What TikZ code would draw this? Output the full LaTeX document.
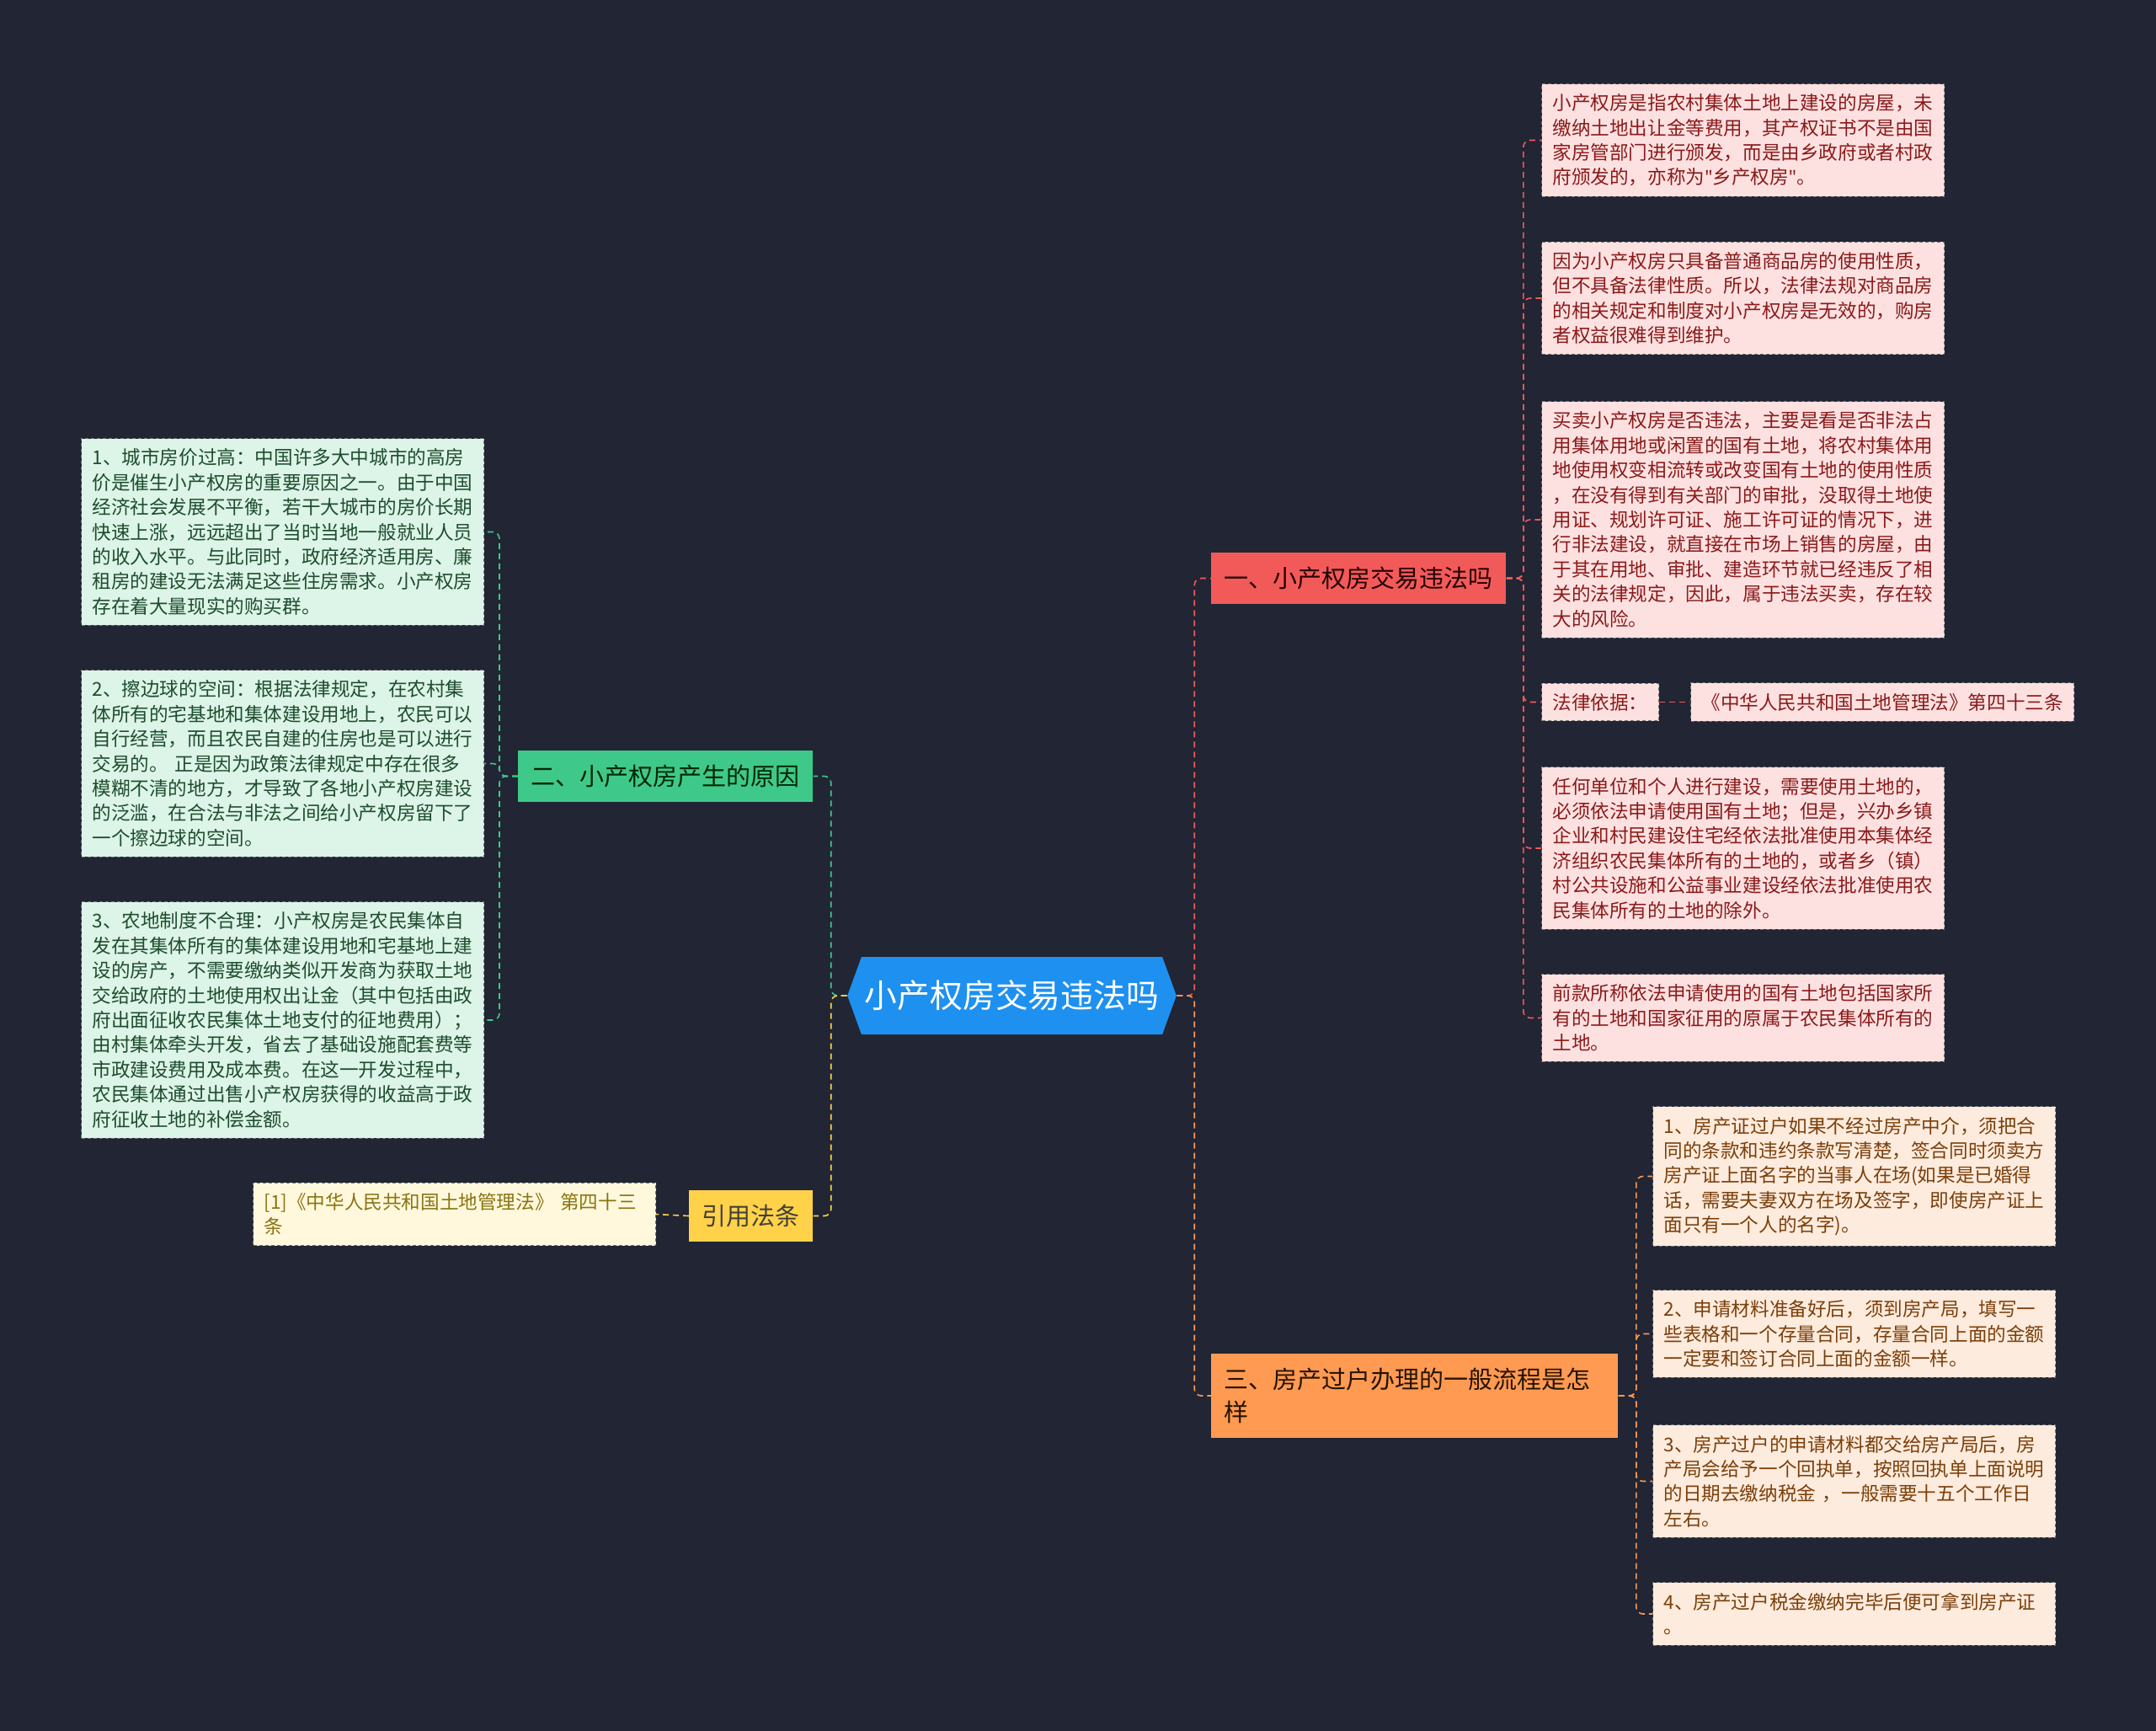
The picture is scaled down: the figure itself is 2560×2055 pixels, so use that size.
\documentclass[tikz,border=0pt]{standalone}
\usepackage{fontspec}
\setmainfont{Noto Sans CJK SC}
\newfontfamily\latinfont{Noto Sans}
\newcommand{\dq}{{\latinfont"}}
\usetikzlibrary{shapes.symbols}
\definecolor{bgdark}{HTML}{212534}
\definecolor{hubblue}{HTML}{1E90F0}
\definecolor{redfill}{HTML}{F25A5A}
\definecolor{greenfill}{HTML}{3EC98A}
\definecolor{yellowfill}{HTML}{FFD24A}
\definecolor{orangefill}{HTML}{FF9A52}
\definecolor{pinkleaf}{HTML}{FDE1E1}
\definecolor{peachleaf}{HTML}{FDEBDD}
\definecolor{mintleaf}{HTML}{DDF4E8}
\definecolor{creamleaf}{HTML}{FFF8DC}
\definecolor{redtext}{HTML}{8B1A1A}
\definecolor{browntext}{HTML}{7B3F0A}
\definecolor{greentext}{HTML}{1E4D2E}
\definecolor{olivetext}{HTML}{8A7412}

\begin{document}
\begin{tikzpicture}[x=0.5pt,y=-0.5pt,
    leaf/.style={draw=black!55, dash pattern=on 2pt off 1.5pt, line width=0.5pt, anchor=west,
        inner xsep=6.5pt, inner ysep=6pt, font=\fontsize{11.3}{14.7}\selectfont, align=left},
    wide/.style={text width=226pt},
    branch/.style={anchor=west, inner xsep=7.75pt, inner ysep=8.3pt,
        font=\fontsize{14.5}{19.6}\selectfont, align=left},
    link/.style={dash pattern=on 3.5pt off 2.5pt, line width=0.8pt, rounded corners=4pt},
    elbow/.style={to path={-- ++(#1,0) |- (\tikztotarget)}}]
    \fill[bgdark] (0,0) rectangle (2560,2055);
    \useasboundingbox (0,0) rectangle (2560,2055);

    \node (c) at (1201.5,1182) [shape=signal, signal to=west and east, signal pointer angle=140,
        fill=hubblue, text=white, minimum width=194.5pt, minimum height=46pt, inner xsep=2pt,
        font=\fontsize{19.4}{23}\selectfont] {小产权房交易违法吗};

    \node (b1) at (1438,686.5) [branch, fill=redfill, text=black!85!red] {一、小产权房交易违法吗};
    \node (b2) at (615,921.5) [branch, fill=greenfill, text=black!85!green] {二、小产权房产生的原因};
    \node (b3) at (818,1443.5) [branch, fill=yellowfill, text=black!85!yellow] {引用法条};
    \node (b4) at (1438,1657) [branch, text width=226pt, fill=orangefill, text=black!85!orange]
        {三、房产过户办理的一般流程是怎\\样};

    % right: first branch
    \node (r1) at (1830,166.5) [leaf, wide, fill=pinkleaf, text=redtext]
        {小产权房是指农村集体土地上建设的房屋，未\\缴纳土地出让金等费用，其产权证书不是由国\\家房管部门进行颁发，而是由乡政府或者村政\\府颁发的，亦称为\dq 乡产权房\dq 。};
    \node (r2) at (1830,354) [leaf, wide, fill=pinkleaf, text=redtext]
        {因为小产权房只具备普通商品房的使用性质，\\但不具备法律性质。所以，法律法规对商品房\\的相关规定和制度对小产权房是无效的，购房\\者权益很难得到维护。};
    \node (r3) at (1830,617) [leaf, wide, fill=pinkleaf, text=redtext]
        {买卖小产权房是否违法，主要是看是否非法占\\用集体用地或闲置的国有土地，将农村集体用\\地使用权变相流转或改变国有土地的使用性质\\，在没有得到有关部门的审批，没取得土地使\\用证、规划许可证、施工许可证的情况下，进\\行非法建设，就直接在市场上销售的房屋，由\\于其在用地、审批、建造环节就已经违反了相\\关的法律规定，因此，属于违法买卖，存在较\\大的风险。};
    \node (r4) at (1830,833.5) [leaf, fill=pinkleaf, text=redtext] {法律依据：};
    \node (r4b) at (2007,833.5) [leaf, fill=pinkleaf, text=redtext] {《中华人民共和国土地管理法》第四十三条};
    \node (r5) at (1830,1007) [leaf, wide, fill=pinkleaf, text=redtext]
        {任何单位和个人进行建设，需要使用土地的，\\必须依法申请使用国有土地；但是，兴办乡镇\\企业和村民建设住宅经依法批准使用本集体经\\济组织农民集体所有的土地的，或者乡（镇）\\村公共设施和公益事业建设经依法批准使用农\\民集体所有的土地的除外。};
    \node (r6) at (1830,1208.5) [leaf, wide, fill=pinkleaf, text=redtext]
        {前款所称依法申请使用的国有土地包括国家所\\有的土地和国家征用的原属于农民集体所有的\\土地。};

    % right: third branch
    \node (o1) at (1962,1396.5) [leaf, wide, fill=peachleaf, text=browntext]
        {1、房产证过户如果不经过房产中介，须把合\\同的条款和违约条款写清楚，签合同时须卖方\\房产证上面名字的当事人在场(如果是已婚得\\话，需要夫妻双方在场及签字，即使房产证上\\面只有一个人的名字)。};
    \node (o2) at (1962,1583.5) [leaf, wide, fill=peachleaf, text=browntext]
        {2、申请材料准备好后，须到房产局，填写一\\些表格和一个存量合同，存量合同上面的金额\\一定要和签订合同上面的金额一样。};
    \node (o3) at (1962,1758.5) [leaf, wide, fill=peachleaf, text=browntext]
        {3、房产过户的申请材料都交给房产局后，房\\产局会给予一个回执单，按照回执单上面说明\\的日期去缴纳税金 ，一般需要十五个工作日\\左右。};
    \node (o4) at (1962,1916) [leaf, wide, fill=peachleaf, text=browntext]
        {4、房产过户税金缴纳完毕后便可拿到房产证\\。};

    % left side
    \node (g1) at (96,631.5) [leaf, wide, fill=mintleaf, text=greentext]
        {1、城市房价过高：中国许多大中城市的高房\\价是催生小产权房的重要原因之一。由于中国\\经济社会发展不平衡，若干大城市的房价长期\\快速上涨，远远超出了当时当地一般就业人员\\的收入水平。与此同时，政府经济适用房、廉\\租房的建设无法满足这些住房需求。小产权房\\存在着大量现实的购买群。};
    \node (g2) at (96,906.5) [leaf, wide, fill=mintleaf, text=greentext]
        {2、擦边球的空间：根据法律规定，在农村集\\体所有的宅基地和集体建设用地上，农民可以\\自行经营，而且农民自建的住房也是可以进行\\交易的。 正是因为政策法律规定中存在很多\\模糊不清的地方，才导致了各地小产权房建设\\的泛滥，在合法与非法之间给小产权房留下了\\一个擦边球的空间。};
    \node (g3) at (96,1211) [leaf, wide, fill=mintleaf, text=greentext]
        {3、农地制度不合理：小产权房是农民集体自\\发在其集体所有的集体建设用地和宅基地上建\\设的房产，不需要缴纳类似开发商为获取土地\\交给政府的土地使用权出让金（其中包括由政\\府出面征收农民集体土地支付的征地费用）；\\由村集体牵头开发，省去了基础设施配套费等\\市政建设费用及成本费。在这一开发过程中，\\农民集体通过出售小产权房获得的收益高于政\\府征收土地的补偿金额。};
    \node (y1) at (300,1441.5) [leaf, wide, fill=creamleaf, text=olivetext]
        {[1]《中华人民共和国土地管理法》 第四十三\\条};

    \path[link, draw=redfill]
    (c.east) edge [elbow=21] (b1.west)
    (b1.east) edge [elbow=20] (r1.west)
    (b1.east) edge [elbow=20] (r2.west)
    (b1.east) edge [elbow=20] (r3.west)
    (b1.east) edge [elbow=20] (r4.west)
    (b1.east) edge [elbow=20] (r5.west)
    (b1.east) edge [elbow=20] (r6.west)
    (r4.east) edge (r4b.west);
    \path[link, draw=orangefill]
    (c.east) edge [elbow=21] (b4.west)
    (b4.east) edge [elbow=21] (o1.west)
    (b4.east) edge [elbow=21] (o2.west)
    (b4.east) edge [elbow=21] (o3.west)
    (b4.east) edge [elbow=21] (o4.west);
    \path[link, draw=greenfill]
    (c.west) edge [elbow=-19] (b2.east)
    (b2.west) edge [elbow=-22] (g1.east)
    (b2.west) edge [elbow=-22] (g2.east)
    (b2.west) edge [elbow=-22] (g3.east);
    \path[link, draw=yellowfill]
    (c.west) edge [elbow=-19] (b3.east)
    (b3.west) edge (y1.east);
\end{tikzpicture}
\end{document}
